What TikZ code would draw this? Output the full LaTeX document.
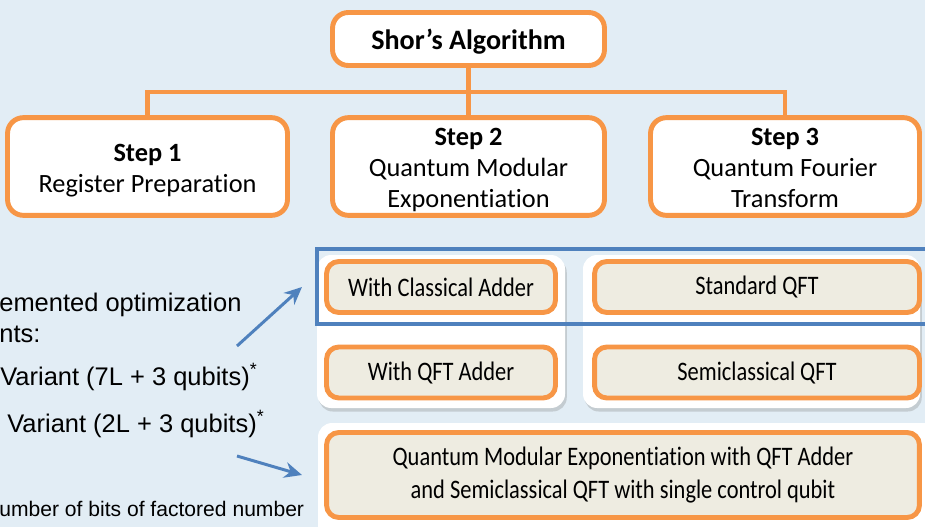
\documentclass[tikz,border=0pt]{standalone}
\usepackage{fontspec}
\setmainfont{Carlito}[Ligatures=NoCommon]
\newfontfamily\narrowfont{Carlito}[Ligatures=NoCommon, FakeStretch=0.84]
\newfontfamily\arialfont{Liberation Sans}
\usetikzlibrary{
		positioning,
		arrows.meta,
		shadows
	}
\definecolor{bgblue}{HTML}{E2EDF5}
\definecolor{accorange}{HTML}{F79646}
\definecolor{accblue}{HTML}{4F81BD}
\definecolor{tanfill}{HTML}{EEECE1}
\tikzset{
		>=Stealth,
		stepbox/.style={draw=accorange, line width=2.8pt, rounded corners=9pt, fill=white, align=center, inner sep=0pt, font=\fontsize{15}{17.6}\selectfont},
		twolines/.style={text height=42.8pt, text depth=12.8pt},
		threelines/.style={text height=51.3pt, text depth=4.3pt},
		lowered/.style={execute at begin node={\rule{0pt}{#1}}},
		optbox/.style={draw=accorange, line width=2.8pt, rounded corners=7pt, fill=tanfill, align=center, inner sep=0pt, font=\narrowfont\fontsize{15.2}{18.7}\selectfont},
		panel/.style={fill=white, rounded corners=8pt, drop shadow={opacity=0.3, shadow xshift=1pt, shadow yshift=-2pt}},
		bus/.style={draw=accorange, line width=2.8pt},
		pointer/.style={draw=accblue, line width=1.7pt, -{Stealth[length=10pt, width=9pt]}},
		note/.style={anchor=base west, inner sep=0pt, font=\arialfont\fontsize{14.5}{17}\selectfont}
	}

\begin{document}
\begin{tikzpicture}[x=0.02cm, y=-0.02cm]
		\useasboundingbox (0, 0) rectangle (925, 527);
		\fill[bgblue] (0, 0) rectangle (925, 527);

		% algorithm and its three steps
		\node[stepbox, lowered=15pt, minimum width=5.44cm, minimum height=1.06cm, font=\fontsize{16}{19}\selectfont\bfseries] (shor) at (468.5, 39) {Shor’s Algorithm};
		\node[stepbox, twolines, minimum width=5.6cm] (step1) at (147.5, 166.5) {\textbf{Step 1}\\Register Preparation};
		\node[stepbox, threelines, minimum width=5.44cm] (step2) at (468.5, 166.5) {\textbf{Step 2}\\Quantum Modular\\Exponentiation};
		\node[stepbox, threelines, minimum width=5.38cm] (step3) at (785, 166.5) {\textbf{Step 3}\\Quantum Fourier\\Transform};
		\coordinate (hub) at (468.5, 92);
		\draw[bus] (shor.south) -- (hub);
		\draw[bus] (step1.north) |- (hub) -| (step3.north);
		\draw[bus] (hub) -- (step2.north);

		% variant panels
		\fill[panel] (317, 255) rectangle (565, 408);
		\fill[panel] (583, 255) rectangle (920, 408);
		\fill[panel] (318, 423) rectangle (940, 545);
		\draw[accblue, line width=2.3pt] (317, 249) rectangle (945, 324);

		\node[optbox, minimum width=4.58cm, minimum height=1.02cm] (classadd) at (441, 287) {With Classical Adder};
		\node[optbox, minimum width=4.58cm, minimum height=1.02cm] (qftadd) at (441, 372.5) {With QFT Adder};
		\node[optbox, minimum width=6.5cm, minimum height=1.02cm] (stdqft) at (757, 287) {Standard QFT};
		\node[optbox, minimum width=6.5cm, minimum height=1.02cm] (semiqft) at (757, 372.5) {Semiclassical QFT};
		\node[optbox, minimum width=11.86cm, minimum height=1.7cm] (combined) at (623, 475) {Quantum Modular Exponentiation with QFT Adder\\and Semiclassical QFT with single control qubit};

		% notes on the left
		\node[note] (notehead) at (-1, 311) {emented optimization};
		\node[note] (notetail) at (-1, 342) {nts:};
		\node[note] (stdvar) at (0, 385) {Variant (7L + 3 qubits)\textsuperscript{*}};
		\node[note] (optvar) at (7, 432) {Variant (2L + 3 qubits)\textsuperscript{*}};
		\node[note, font=\arialfont\fontsize{12}{14}\selectfont] (legend) at (-1, 516) {umber of bits of factored number};

		\coordinate (upfrom) at (237, 346);
		\coordinate (upto) at (302, 287);
		\coordinate (downfrom) at (237, 456);
		\coordinate (downto) at (302, 475);
		\draw[pointer] (upfrom) -- (upto);
		\draw[pointer] (downfrom) -- (downto);
	\end{tikzpicture}
\end{document}
